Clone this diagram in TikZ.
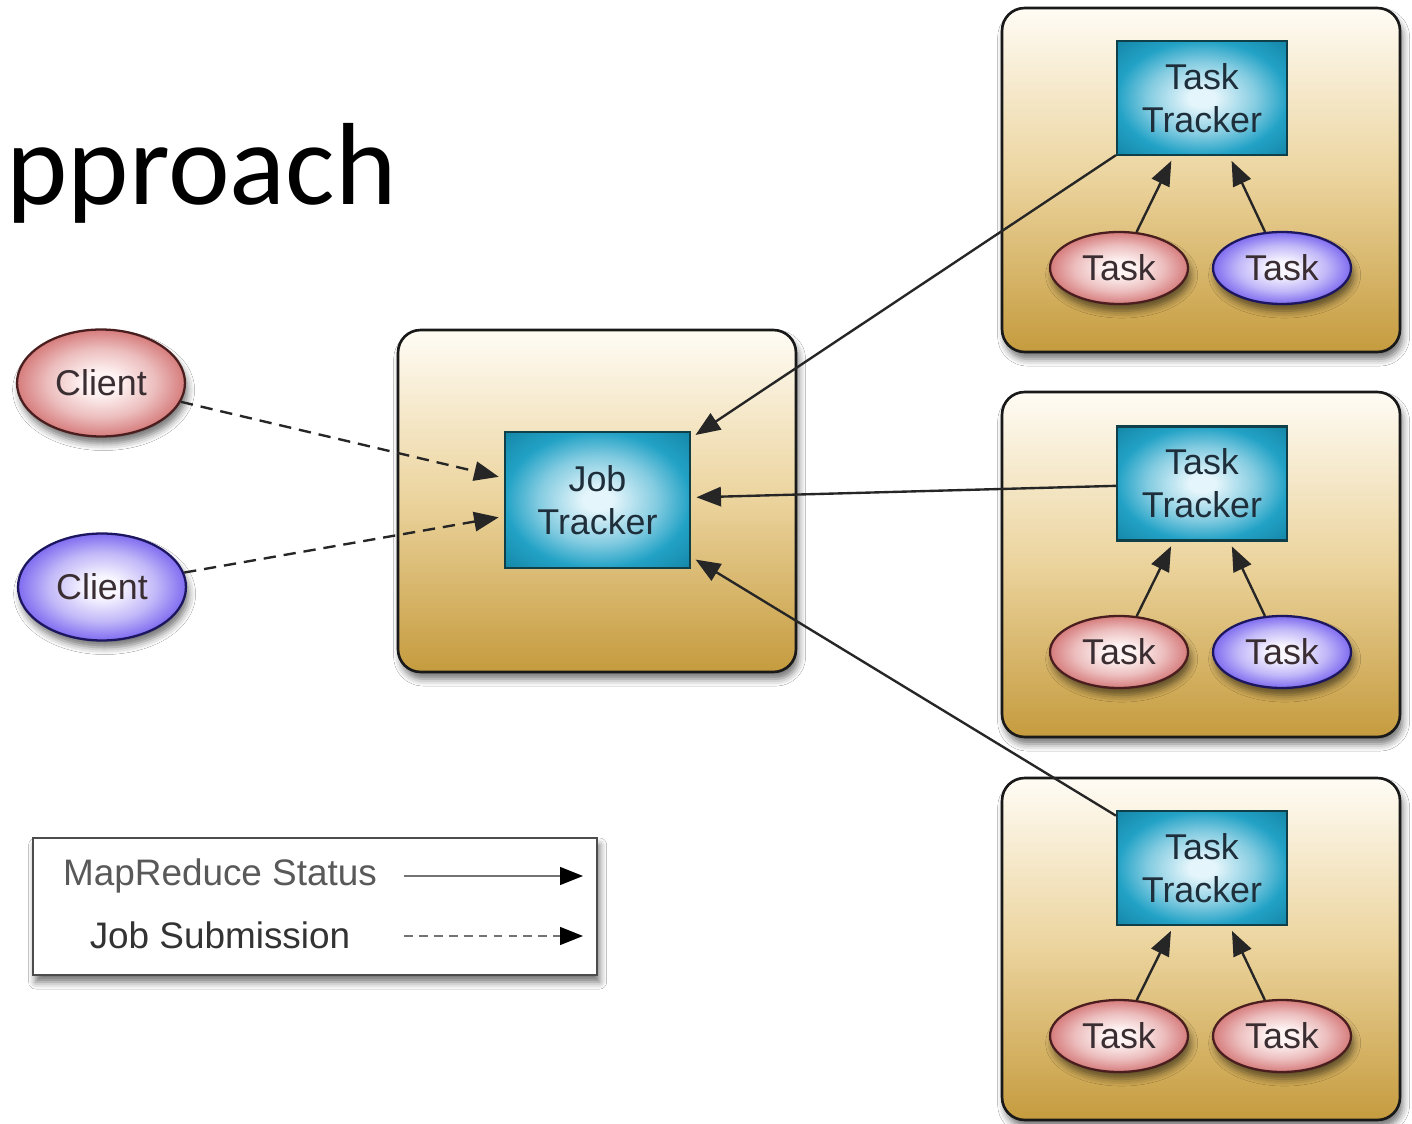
\documentclass[tikz,border=0pt]{standalone}
\usepackage{fontspec}
\setmainfont{Liberation Sans}
\newfontfamily\titlefont{Carlito}
\usetikzlibrary{arrows.meta,shadows.blur,shapes.geometric}
\definecolor{boxtop}{HTML}{FFFCF5}
\definecolor{boxmid}{HTML}{EBD39C}
\definecolor{boxbot}{HTML}{C59B3E}
\definecolor{ibin}{HTML}{E4F5FB}
\definecolor{ibout}{HTML}{22A2C6}
\definecolor{ibdark}{HTML}{1587A8}
\colorlet{ibmid}{ibout!50!ibin}
\definecolor{ibline}{HTML}{0F3F48}
\definecolor{ibtext}{HTML}{1E2E3A}
\definecolor{pinkin}{HTML}{FFF4F4}
\definecolor{pinkout}{HTML}{D67C7C}
\colorlet{pinkmid}{pinkout!45!pinkin}
\definecolor{pinkline}{HTML}{4A1E1E}
\definecolor{purpin}{HTML}{F8F6FF}
\definecolor{purpout}{HTML}{7F6CF0}
\colorlet{purpmid}{purpout!45!purpin}
\definecolor{purpline}{HTML}{1C1660}
\definecolor{elltext}{HTML}{3A2E32}
\pgfdeclareradialshading{pinkrad}{\pgfpoint{0bp}{0bp}}{color(0bp)=(pinkin); color(5bp)=(pinkin); color(16bp)=(pinkmid); color(25bp)=(pinkout); color(50bp)=(pinkout)}
\pgfdeclareradialshading{purprad}{\pgfpoint{0bp}{0bp}}{color(0bp)=(purpin); color(5bp)=(purpin); color(16bp)=(purpmid); color(25bp)=(purpout); color(50bp)=(purpout)}
\pgfdeclareradialshading{cyanrad}{\pgfpoint{0bp}{0bp}}{color(0bp)=(ibin); color(4bp)=(ibin); color(16bp)=(ibmid); color(25bp)=(ibout); color(35bp)=(ibdark); color(50bp)=(ibdark)}
\begin{document}
\begin{tikzpicture}[x=0.02cm,y=-0.02cm,
  every node/.style={font=\fontsize{20.4}{24.4}\selectfont},
  shad/.style={blur shadow={shadow xshift=1.5pt,shadow yshift=-4pt,shadow blur radius=4pt,shadow opacity=55}},
  outerbox/.style={shad,draw=black!90,line width=1.5pt,rounded corners=0.45cm,
    minimum width=7.96cm,minimum height=6.84cm,top color=boxtop,bottom color=boxbot,middle color=boxmid},
  innerbox/.style={draw=ibline,line width=1.3pt,shading=cyanrad,
    text=ibtext,align=center,inner sep=0pt},
  jtbox/.style={innerbox,minimum width=3.7cm,minimum height=2.72cm},
  ttbox/.style={innerbox,minimum width=3.4cm,minimum height=2.28cm},
  pinkell/.style={shad,ellipse,draw=pinkline,line width=1.3pt,shading=pinkrad,
    text=elltext,inner sep=0pt},
  purpell/.style={shad,ellipse,draw=purpline,line width=1.3pt,shading=purprad,
    text=elltext,inner sep=0pt},
  taskell/.style={minimum width=2.76cm,minimum height=1.44cm},
  clientell/.style={minimum width=3.36cm,minimum height=2.14cm},
  arr/.style={-{Triangle[length=14pt,width=11pt]},line width=1.35pt,draw=black!85,shorten >=3pt},
  dsh/.style={arr,dash pattern=on 7pt off 4.5pt},
  legbox/.style={shad,draw=black!70,line width=1.5pt,fill=white,minimum width=11.28cm,minimum height=2.74cm}
]
\fill[white] (0,0) rectangle (1412,1124);
\useasboundingbox (0,0) rectangle (1412,1124);

% title fragment (cut off at the left edge, as in the reference)
\node[anchor=base east,inner sep=0pt,font=\titlefont\fontsize{66.5}{80}\selectfont] (title) at (397,205) {approach};

% outer boxes
\node[outerbox,minimum height=6.84cm] (jtouter) at (597,501) {};
\node[outerbox,minimum height=6.88cm] (tto1) at (1201,180) {};
\node[outerbox,minimum height=6.9cm] (tto2) at (1201,564.5) {};
\node[outerbox,minimum height=6.84cm] (tto3) at (1201,949) {};

% job tracker
\node[jtbox] (jt) at (597.5,500) {Job\\Tracker};

% task trackers
\node[ttbox] (tt1) at (1202,98) {Task\\Tracker};
\node[ttbox] (tt2) at (1202,483.5) {Task\\Tracker};
\node[ttbox] (tt3) at (1202,868) {Task\\Tracker};

% tasks
\node[pinkell,taskell] (t1a) at (1119,268) {Task};
\node[purpell,taskell] (t1b) at (1282,268) {Task};
\node[pinkell,taskell] (t2a) at (1119,652) {Task};
\node[purpell,taskell] (t2b) at (1282,652) {Task};
\node[pinkell,taskell] (t3a) at (1119,1036) {Task};
\node[pinkell,taskell] (t3b) at (1282,1036) {Task};

% clients
\node[pinkell,clientell] (c1) at (101,383) {Client};
\node[purpell,clientell] (c2) at (102,587) {Client};

% task -> task tracker
\draw[arr] (t1a) -- (tt1);
\draw[arr] (t1b) -- (tt1);
\draw[arr] (t2a) -- (tt2);
\draw[arr] (t2b) -- (tt2);
\draw[arr] (t3a) -- (tt3);
\draw[arr] (t3b) -- (tt3);

% task tracker -> job tracker
\draw[arr] (tt1) -- (jt);
\draw[arr] (tt2) -- (jt);
\draw[arr] (tt3) -- (jt);

% client -> job tracker
\draw[dsh] (c1) -- (jt);
\draw[dsh] (c2) -- (jt);

% legend
\node[legbox] (leg) at (315,906.5) {};
\node[text=black!65,font=\fontsize{21}{24}\selectfont] (l1) at (220,876) {MapReduce Status};
\node[text=black!80,font=\fontsize{21}{24}\selectfont] (l2) at (220,935) {Job Submission};
\coordinate (l1s) at (404,876);
\coordinate (l1e) at (583,876);
\coordinate (l2s) at (404,936);
\coordinate (l2e) at (583,936);
\draw[-{Triangle[length=13pt,width=10pt,color=black]},line width=1.3pt,draw=black!55] (l1s) -- (l1e);
\draw[-{Triangle[length=13pt,width=10pt,color=black]},line width=1.3pt,draw=black!55,dash pattern=on 5pt off 3.5pt] (l2s) -- (l2e);
\end{tikzpicture}
\end{document}
